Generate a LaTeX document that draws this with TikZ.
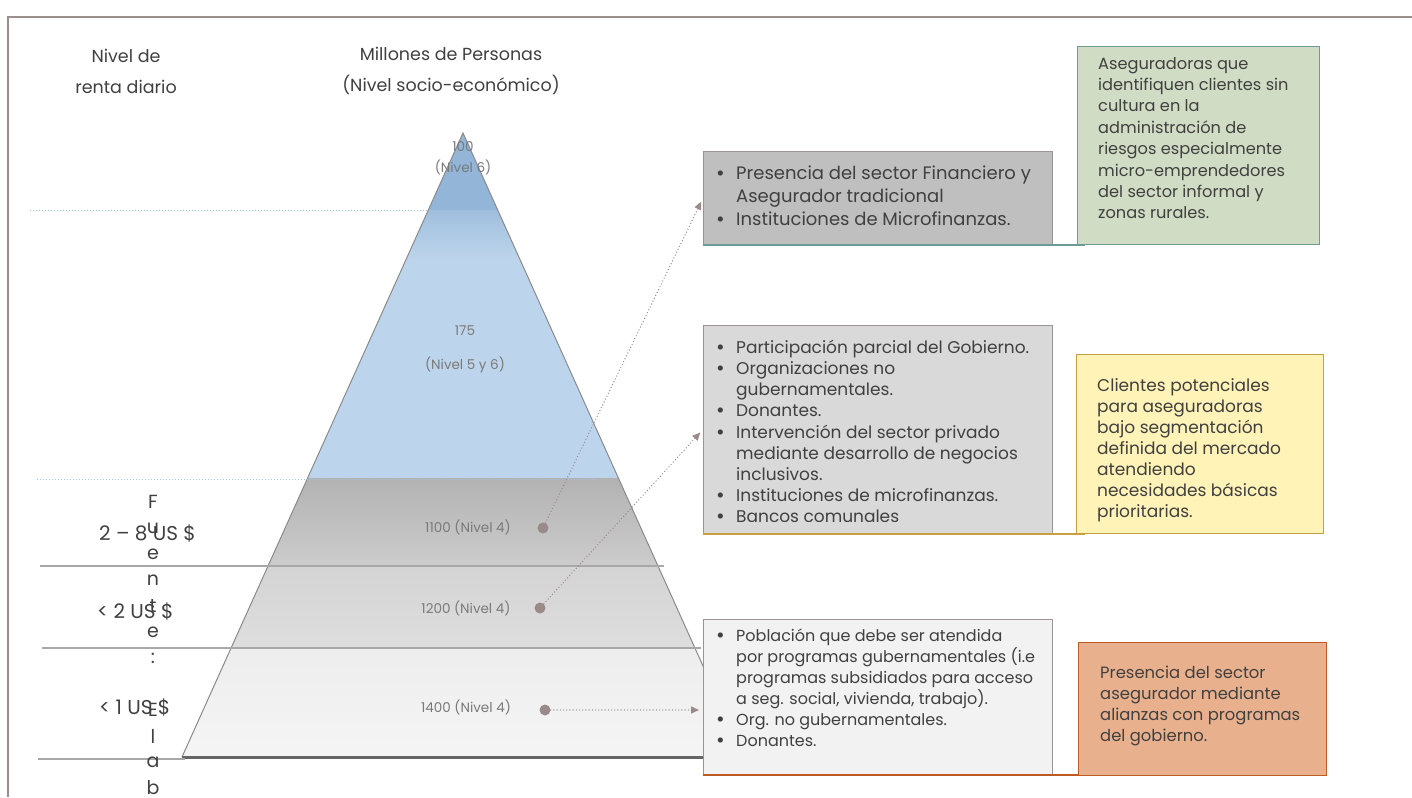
\documentclass[tikz,border=0pt]{standalone}
\usepackage{fontspec}
\setmainfont{Poppins}
\usetikzlibrary{arrows.meta,positioning}

\definecolor{framecol}{HTML}{9B8F8D}
\definecolor{txtgray}{HTML}{404040}
\definecolor{tiergray}{HTML}{7A7A7A}
\definecolor{dotgray}{HTML}{9A8A8A}
\definecolor{edgegray}{HTML}{8A8A8A}
\definecolor{linegray}{HTML}{A8A8A8}
\definecolor{dotblue}{HTML}{9DC3E6}
\definecolor{tipblue}{HTML}{93B5D8}
\definecolor{upblue}{HTML}{BDD5EC}
\definecolor{boxedge}{HTML}{9E9393}
\definecolor{finfill}{HTML}{BFBFBF}
\definecolor{govfill}{HTML}{D9D9D9}
\definecolor{popfill}{HTML}{F2F2F2}
\definecolor{tealline}{HTML}{6E9C94}
\definecolor{goldline}{HTML}{C9A040}
\definecolor{rustline}{HTML}{BE5B25}
\definecolor{segfill}{HTML}{D0DCC3}
\definecolor{potfill}{HTML}{FFF3B8}
\definecolor{allyfill}{HTML}{E9B08D}

\newcommand{\bl}{\makebox[21pt][l]{\hspace{1pt}\raisebox{-1pt}{\fontsize{21}{21}\selectfont\textbullet}}}
\newcommand{\ind}{\hspace*{21pt}}

\tikzset{
  hdr/.style={text=txtgray, font=\fontsize{17.5}{31}\selectfont, align=center, inner sep=0pt},
  rent/.style={text=txtgray, font=\fontsize{20}{24}\selectfont, inner sep=0pt, anchor=west},
  srcchar/.style={text=txtgray, font=\fontsize{19}{24}\selectfont, inner sep=0pt},
  tier/.style={text=tiergray, font=\fontsize{13.5}{21}\selectfont, align=center, inner sep=0pt},
  dotmark/.style={circle, fill=dotgray, inner sep=0pt, minimum size=11pt},
  infobox/.style={draw=boxedge, line width=1pt, anchor=north west, inner sep=0pt},
  boxtext/.style={text=txtgray, align=left, inner sep=0pt, anchor=north west},
  link/.style={dotgray, line width=1.4pt, dash pattern=on 0pt off 3.2pt, line cap=round,
    -{Triangle[length=8pt,width=7pt]}, shorten >=4pt},
}

\begin{document}
\begin{tikzpicture}[x=1pt,y=-1pt]
\useasboundingbox (0,0) rectangle (1412,797);

% frame
\draw[framecol, line width=2.5pt] (8,797) -- (8,17) -- (1412,17);

% headings
\node[hdr] (hrent) at (126,71) {Nivel de\\renta diario};
\node[hdr] (hpers) at (451,71) {Millones de Personas\\(Nivel socio-económico)};

% pyramid
\coordinate (apex) at (463,133);
\coordinate (baseL) at (182,757);
\coordinate (baseR) at (744,757);
\begin{scope}
  \clip (apex) -- (baseL) -- (baseR) -- cycle;
  \fill[tipblue] (150,120) rectangle (800,210);
  \shade[top color=tipblue!70!upblue, bottom color=upblue] (150,210) rectangle (800,260);
  \fill[upblue] (150,260) rectangle (800,478);
  \shade[top color=black!30, bottom color=black!20] (150,478) rectangle (800,566);
  \shade[top color=black!17, bottom color=black!13] (150,566) rectangle (800,648);
  \shade[top color=black!7, bottom color=black!4] (150,648) rectangle (800,757);
\end{scope}
\draw[edgegray, line width=1pt] (baseL) -- (apex) -- (baseR);
\draw[black!60, line width=3pt] (baseL) -- (baseR);

% level lines
\draw[dotblue, line width=1pt, dotted] (30,210) -- (428,210);
\draw[dotblue, line width=1pt, dotted] (37,479) -- (598,479);
\draw[linegray, line width=1.5pt] (40,566) -- (664,566);
\draw[linegray, line width=1.5pt] (42,648) -- (701,648);
\draw[linegray, line width=1.5pt] (38,759) -- (185,759);

% tier labels
\node[tier] (tier100) at (463,158) {100\\(Nivel 6)};
\node[tier] (tier175) at (465,331) {175};
\node[tier] (tier175b) at (465,365) {(Nivel 5 y 6)};
\node[tier] (tier1100) at (468,527) {1100 (Nivel 4)};
\node[tier] (tier1200) at (466,608) {1200 (Nivel 4)};
\node[tier] (tier1400) at (466,707) {1400 (Nivel 4)};

\node[dotmark] (dot1100) at (543,528) {};
\node[dotmark] (dot1200) at (540,608) {};
\node[dotmark] (dot1400) at (545,710) {};

% income per day
\node[rent] (r28) at (99,533) {2 – 8 US \$};
\node[rent] (r2) at (97,611) {< 2 US \$};
\node[rent] (r1) at (99,707) {< 1 US \$};
\foreach \ch/\yy [count=\i] in {F/502,u/528,e/554,n/580,t/606,e/632,:/658,E/710,l/736,a/762,b/788}
  \node[srcchar, name=src\i] at (153,\yy) {\ch};

% boxes with actors
\node[infobox, fill=finfill, minimum width=349pt, minimum height=93pt] (finbox) at (703,151) {};
\node[boxtext, font=\fontsize{18}{23}\selectfont] (fintext) at (715,166)
  {\bl Presencia del sector Financiero y\\ \ind Asegurador tradicional\\ \bl Instituciones de Microfinanzas.};
\draw[tealline, line width=2pt] (finbox.south west) -- ++(382,0);

\node[infobox, fill=govfill, minimum width=349pt, minimum height=208pt] (govbox) at (703,325) {};
\begin{scope}
  \clip (703,325) rectangle (1052,521);
  \node[boxtext, font=\fontsize{17}{21.1}\selectfont] (govtext) at (715,340)
    {\bl Participación parcial del Gobierno.\\ \bl Organizaciones no\\ \ind gubernamentales.\\
     \bl Donantes.\\ \bl Intervención del sector privado\\ \ind mediante desarrollo de negocios\\
     \ind inclusivos.\\ \bl Instituciones de microfinanzas.\\ \bl Bancos comunales};
\end{scope}
\draw[goldline, line width=2pt] (govbox.south west) -- ++(382,0);

\node[infobox, fill=popfill, minimum width=349pt, minimum height=155pt] (popbox) at (703,619) {};
\node[boxtext, font=\fontsize{16}{21}\selectfont] (poptext) at (715,629)
  {\bl Población que debe ser atendida\\ \ind por programas gubernamentales (i.e\\
   \ind programas subsidiados para acceso\\ \ind a seg. social, vivienda,  trabajo).\\
   \bl Org. no gubernamentales.\\ \bl Donantes.};
\draw[rustline, line width=2pt] (popbox.south west) -- ++(377,0);

% insurer boxes
\node[infobox, draw=tealline, fill=segfill, minimum width=242pt, minimum height=198pt] (segbox) at (1077,46) {};
\node[boxtext, font=\fontsize{16.2}{21.4}\selectfont] (segtext) at (1098,57)
  {Aseguradoras que\\ identifiquen clientes sin\\ cultura en la\\ administración de\\
   riesgos especialmente\\ micro-emprendedores\\ del  sector informal y\\ zonas rurales.};

\node[infobox, draw=goldline, fill=potfill, minimum width=247pt, minimum height=179pt] (potbox) at (1076,354) {};
\node[boxtext, font=\fontsize{17}{21}\selectfont] (pottext) at (1097,378)
  {Clientes potenciales\\ para  aseguradoras\\ bajo  segmentación\\ definida del mercado\\
   atendiendo\\ necesidades básicas\\ prioritarias.};

\node[infobox, draw=rustline, fill=allyfill, minimum width=248pt, minimum height=133pt] (allybox) at (1078,642) {};
\node[boxtext, font=\fontsize{16.4}{21}\selectfont] (allytext) at (1100,666)
  {Presencia del sector\\ asegurador mediante\\ alianzas con programas\\ del gobierno.};

% links
\draw[link] (dot1100) -- (finbox.west);
\draw[link] (dot1200) -- (govbox.west);
\draw[link] (dot1400) -- (dot1400 -| popbox.west);
\end{tikzpicture}
\end{document}
